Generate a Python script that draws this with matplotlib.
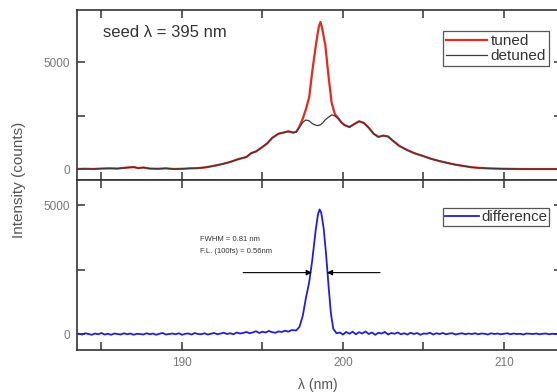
import numpy as np
import matplotlib.pyplot as plt

plt.rcParams['font.family'] = ['Liberation Sans', 'DejaVu Sans']

# ---- top panel: seeded spectrum, tuned vs detuned (counts vs nm)
lam_top = [183.5, 184.0, 184.5, 185.0, 185.5, 186.0, 186.5, 187.0, 187.3, 187.6,
           188.0, 188.5, 189.0, 189.5, 190.0, 190.5, 191.0, 191.5, 192.0, 192.5,
           193.0, 193.5, 194.0, 194.3, 194.6, 195.0, 195.3, 195.6, 196.0, 196.3,
           196.6, 196.9, 197.1, 197.3, 197.5, 197.7, 197.9, 198.1, 198.3, 198.4,
           198.5, 198.6, 198.7, 198.8, 198.9, 199.1, 199.3, 199.5, 199.7, 199.9,
           200.1, 200.4, 200.7, 201.0, 201.3, 201.6, 201.9, 202.2, 202.5, 202.8,
           203.1, 203.5, 204.0, 204.5, 205.0, 205.5, 206.0, 206.5, 207.0, 207.5,
           208.0, 208.5, 209.0, 209.5, 210.0, 211.0, 212.0, 213.0, 213.6]
detuned = [0, 10, 0, 20, 30, 20, 60, 90, 40, 70,
           20, 10, 30, 0, 10, 30, 40, 80, 150, 230,
           330, 460, 560, 740, 820, 1030, 1200, 1450, 1650, 1700,
           1760, 1700, 1720, 1950, 2180, 2290, 2250, 2120, 2050, 2030,
           2040, 2070, 2130, 2210, 2300, 2420, 2530, 2480, 2350, 2180,
           2050, 1960, 2100, 2230, 2150, 1930, 1650, 1500, 1560, 1520,
           1320, 1080, 880, 720, 600, 470, 370, 280, 200, 140,
           80, 50, 30, 20, 10, 0, 0, 0, 0]
tuned = [0, 10, 0, 20, 30, 20, 60, 90, 40, 70,
         20, 10, 30, 0, 10, 30, 40, 80, 150, 230,
         330, 460, 560, 740, 820, 1030, 1200, 1450, 1650, 1700,
         1760, 1700, 1740, 1990, 2350, 2800, 3350, 4600, 5700, 6200,
         6650, 6870, 6600, 6200, 5800, 4350, 3080, 2560, 2380, 2180,
         2050, 1960, 2100, 2230, 2150, 1930, 1650, 1500, 1560, 1520,
         1320, 1080, 880, 720, 600, 470, 370, 280, 200, 140,
         80, 50, 30, 20, 10, 0, 0, 0, 0]

# ---- bottom panel: difference spectrum
lam_diff = [183.6, 183.8, 184.0, 184.2, 184.4, 184.6, 184.8, 185.0, 185.2, 185.4,
            185.6, 185.8, 186.0, 186.2, 186.4, 186.6, 186.8, 187.0, 187.2, 187.4,
            187.6, 187.8, 188.0, 188.2, 188.4, 188.6, 188.8, 189.0, 189.2, 189.4,
            189.6, 189.8, 190.0, 190.2, 190.4, 190.6, 190.8, 191.0, 191.2, 191.4,
            191.6, 191.8, 192.0, 192.2, 192.4, 192.6, 192.8, 193.0, 193.2, 193.4,
            193.6, 193.8, 194.0, 194.2, 194.4, 194.6, 194.8, 195.0, 195.2, 195.4,
            195.6, 195.8, 196.0, 196.2, 196.4, 196.6, 196.8,
            197.1, 197.3, 197.5, 197.7, 197.9, 198.1, 198.3, 198.45, 198.55, 198.65,
            198.8, 198.95, 199.1, 199.25, 199.4, 199.6,
            199.8, 200.0, 200.2, 200.4, 200.6, 200.8, 201.0, 201.2, 201.4, 201.6,
            201.8, 202.0, 202.2, 202.4, 202.6, 202.8, 203.0, 203.2, 203.4, 203.6,
            203.8, 204.0, 204.2, 204.4, 204.6, 204.8, 205.0, 205.2, 205.4, 205.6,
            205.8, 206.0, 206.2, 206.4, 206.6, 206.8, 207.0, 207.2, 207.4, 207.6,
            207.8, 208.0, 208.2, 208.4, 208.6, 208.8, 209.0, 209.2, 209.4, 209.6,
            209.8, 210.0, 210.2, 210.4, 210.6, 210.8, 211.0, 211.2, 211.4, 211.6,
            211.8, 212.0, 212.2, 212.4, 212.6, 212.8, 213.0, 213.2, 213.4, 213.6]
difference = [10, -20, 30, 0, -30, 20, -10, 40, -20, 10,
              -30, 20, 0, -20, 30, -10, 20, -30, 10, 0,
              -20, 30, -10, 20, -30, 10, 40, -20, 0, 20,
              -10, 30, -30, 10, 20, -20, 40, 0, -10, 30,
              -20, 10, 40, -10, 20, 50, 0, 30, -10, 60,
              20, 40, 80, 30, 60, 110, 40, 90, 60, 120,
              70, 50, 100, 80, 130, 90, 150,
              140, 280, 700, 1400, 2000, 2900, 4000, 4650, 4830, 4700,
              4100, 3100, 1900, 800, 200, 30,
              60, -20, 80, 10, 90, -10, 70, 20, 100, 0,
              60, -30, 50, 20, 80, -20, 40, 10, 60, -10,
              30, -20, 50, 0, 40, -30, 20, 10, 50, -20,
              30, 0, 40, -10, 20, 30, -20, 10, 30, -10,
              20, 0, 30, -10, 20, 10, -20, 30, 0, 20,
              -10, 10, 30, -10, 20, 0, 10, -20, 20, 10,
              0, 20, -10, 10, 20, -10, 10, 0, 20, 0]

xtick_pos = [185, 190, 195, 200, 205, 210]
xtick_labels = ['', '190', '', '200', '', '210']
ytick_pos = [0, 2500, 5000]
ytick_labels = ['0', '', '5000']

fig = plt.figure(figsize=(5.57, 3.92), dpi=100)
ax1 = fig.add_axes([0.1382, 0.5408, 0.8707, 0.4337])
ax2 = fig.add_axes([0.1382, 0.1071, 0.8707, 0.4337])

ax1.plot(lam_top, tuned, color='#e22a22', lw=1.6, label='tuned')
ax1.plot(lam_top, detuned, color='#3a3a3a', lw=0.9, label='detuned')
ax2.plot(lam_diff, difference, color='#2020d6', lw=1.3, label='difference')

ax1.set_ylim(-514, 7430)
ax2.set_ylim(-620, 5970)

for ax in (ax1, ax2):
    ax.set_xlim(183.48, 213.6)
    ax.set_xticks(xtick_pos)
    ax.set_xticklabels(xtick_labels)
    ax.set_yticks(ytick_pos)
    ax.set_yticklabels(ytick_labels)
    ax.tick_params(direction='in', top=True, right=True, length=6, width=1.1,
                   color='#333333', labelcolor='#777777', labelsize=8.5, pad=5)
    for s in ax.spines.values():
        s.set_color('#333333')
        s.set_linewidth(1.2)
    # right spine sits just past the picture edge
    ax.spines['right'].set_visible(False)
ax1.tick_params(labelbottom=False)

ax1.text(0.054, 0.87, 'seed λ = 395 nm', transform=ax1.transAxes,
         fontsize=12, color='#333333', va='center', ha='left')

leg1 = ax1.legend(loc='upper left', bbox_to_anchor=(0.755, 0.876), fancybox=False,
                  edgecolor='#555555', framealpha=1, fontsize=11, handlelength=2.7,
                  handletextpad=0.2, borderpad=0.2, labelspacing=0.05, borderaxespad=0)
leg2 = ax2.legend(loc='upper left', bbox_to_anchor=(0.755, 0.835), fancybox=False,
                  edgecolor='#555555', framealpha=1, fontsize=10.8, handlelength=2.3,
                  handletextpad=0.15, borderpad=0.12, borderaxespad=0)
for leg in (leg1, leg2):
    leg.get_frame().set_linewidth(0.9)
    for t in leg.get_texts():
        t.set_color('#333333')

ax2.text(191.12, 3680, 'FWHM = 0.81 nm', fontsize=5.5, color='#333333', va='center')
ax2.text(191.12, 3180, 'F.L. (100fs) = 0.56nm', fontsize=5.5, color='#333333', va='center')
arrow = dict(arrowstyle='-|>', color='black', lw=0.8, mutation_scale=8, shrinkA=0, shrinkB=0)
ax2.annotate('', xy=(198.07, 2380), xytext=(193.8, 2380), arrowprops=arrow)
ax2.annotate('', xy=(199.0, 2380), xytext=(202.3, 2380), arrowprops=arrow)

fig.text(19 / 557, 1 - 180 / 392, 'Intensity (counts)', rotation=90, fontsize=11,
         color='#555555', ha='center', va='center')
fig.text(318 / 557, 1 - 385 / 392, 'λ (nm)', fontsize=10, color='#555555',
         ha='center', va='center')

fig.savefig('out.png', dpi=100)
